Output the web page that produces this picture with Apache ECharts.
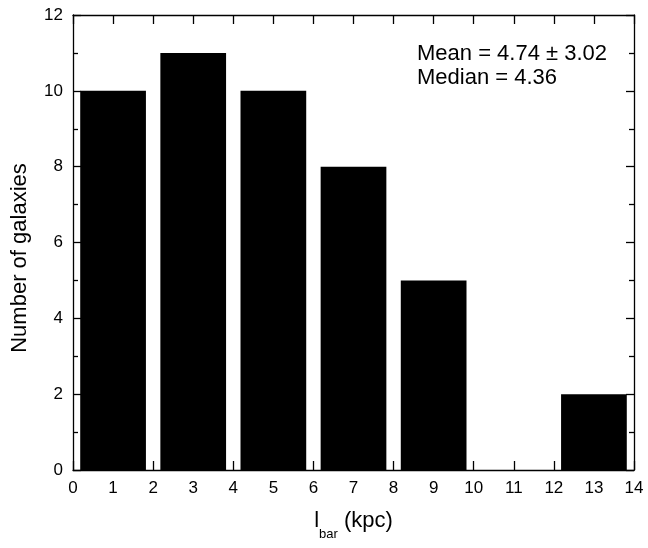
<!DOCTYPE html>
<html>
<head>
<meta charset="utf-8">
<script src="https://cdn.jsdelivr.net/npm/echarts@6/dist/echarts.min.js"></script>
<style>
html,body{margin:0;padding:0;background:#fff;}
#chart{width:648px;height:548px;}
</style>
</head>
<body>
<div id="chart"></div>
<script>
// ---- data ----
const binCenters = [1, 3, 5, 7, 9, 11, 13];
const counts = [10, 11, 10, 8, 5, 0, 2];
const xTickLabels = ['0','1','2','3','4','5','6','7','8','9','10','11','12','13','14'];
const yTickLabels = ['0','2','4','6','8','10','12'];
const statLines = ['Mean = 4.74 \u00b1 3.02', 'Median = 4.36'];
const yTitle = 'Number of galaxies';
const xTitleMain = 'l';
const xTitleSub = 'bar';
const xTitleUnit = ' (kpc)';

// ---- styles ----
const FONT = '"Liberation Sans", Arial, Helvetica, sans-serif';
const BAR_HALF = 0.82;
const G = {left: 73, right: 14, top: 15, bottom: 78};
const W = 648, H = 548;

const chart = echarts.init(document.getElementById('chart'), null, {renderer: 'canvas'});

const data = binCenters.map((c, i) => [c, counts[i]]);

const axisLine = {show: true, onZero: false, lineStyle: {color: '#000', width: 1.3}};
const tickStyle = {color: '#000', width: 1.3};

function measure(text, size) {
  const ctx = document.createElement('canvas').getContext('2d');
  ctx.font = size + 'px ' + FONT;
  return ctx.measureText(text).width;
}

const mainSize = 22, subSize = 13;
const wMain = measure(xTitleMain, mainSize);
const wSub = measure(xTitleSub, subSize);
const wUnit = measure(xTitleUnit, mainSize);
const totalW = wMain + wSub + wUnit;
const plotCx = G.left + (W - G.left - G.right) / 2;
const xStart = plotCx - totalW / 2;

const option = {
  animation: false,
  backgroundColor: '#fff',
  grid: {left: G.left, right: G.right, top: G.top, bottom: G.bottom, containLabel: false},
  xAxis: [
    {
      type: 'value', position: 'bottom', min: 0, max: 14, interval: 1,
      axisLine: axisLine,
      axisTick: {show: true, inside: true, length: 9, lineStyle: tickStyle},
      axisLabel: {show: true, margin: 10, color: '#000', fontSize: 17, fontFamily: FONT,
        formatter: v => xTickLabels[Math.round(v)]},
      splitLine: {show: false}
    },
    {
      type: 'value', position: 'top', min: 0, max: 14, interval: 1,
      axisLine: axisLine,
      axisTick: {show: true, inside: true, length: 9, lineStyle: tickStyle},
      axisLabel: {show: false},
      splitLine: {show: false}
    }
  ],
  yAxis: [
    {
      type: 'value', position: 'left', min: 0, max: 12, interval: 2,
      axisLine: axisLine,
      axisTick: {show: true, inside: true, length: 8, lineStyle: tickStyle},
      minorTick: {show: true, splitNumber: 2, length: 5, lineStyle: tickStyle},
      axisLabel: {show: true, margin: 10, color: '#000', fontSize: 17, fontFamily: FONT,
        formatter: v => yTickLabels[Math.round(v / 2)]},
      splitLine: {show: false}, minorSplitLine: {show: false}
    },
    {
      type: 'value', position: 'right', min: 0, max: 12, interval: 2,
      axisLine: axisLine,
      axisTick: {show: true, inside: true, length: 8, lineStyle: tickStyle},
      minorTick: {show: true, splitNumber: 2, length: 5, lineStyle: tickStyle},
      axisLabel: {show: false},
      splitLine: {show: false}, minorSplitLine: {show: false}
    }
  ],
  series: [{
    type: 'custom',
    xAxisIndex: 0, yAxisIndex: 0,
    data: data,
    renderItem: function (params, api) {
      const c = api.value(0), v = api.value(1);
      const p0 = api.coord([c - BAR_HALF, v]);
      const p1 = api.coord([c + BAR_HALF, 0]);
      return {
        type: 'rect',
        shape: {x: p0[0], y: p0[1], width: p1[0] - p0[0], height: p1[1] - p0[1]},
        style: {fill: '#000'}
      };
    },
    z: 1
  }],
  graphic: [
    {type: 'text', left: 417, top: 43, z: 10,
      style: {text: statLines[0], fill: '#000', font: mainSize + 'px ' + FONT}},
    {type: 'text', left: 417, top: 67, z: 10,
      style: {text: statLines[1], fill: '#000', font: mainSize + 'px ' + FONT}},
    {type: 'text', x: 20, y: 258, rotation: Math.PI / 2, z: 10,
      style: {text: yTitle, fill: '#000', font: mainSize + 'px ' + FONT, align: 'center', verticalAlign: 'middle'}},
    {type: 'text', x: xStart, y: 510, z: 10,
      style: {text: xTitleMain, fill: '#000', font: mainSize + 'px ' + FONT, align: 'left', verticalAlign: 'top'}},
    {type: 'text', x: xStart + wMain, y: 528, z: 10,
      style: {text: xTitleSub, fill: '#000', font: subSize + 'px ' + FONT, align: 'left', verticalAlign: 'top'}},
    {type: 'text', x: xStart + wMain + wSub, y: 510, z: 10,
      style: {text: xTitleUnit, fill: '#000', font: mainSize + 'px ' + FONT, align: 'left', verticalAlign: 'top'}}
  ]
};

chart.setOption(option);
</script>
</body>
</html>
